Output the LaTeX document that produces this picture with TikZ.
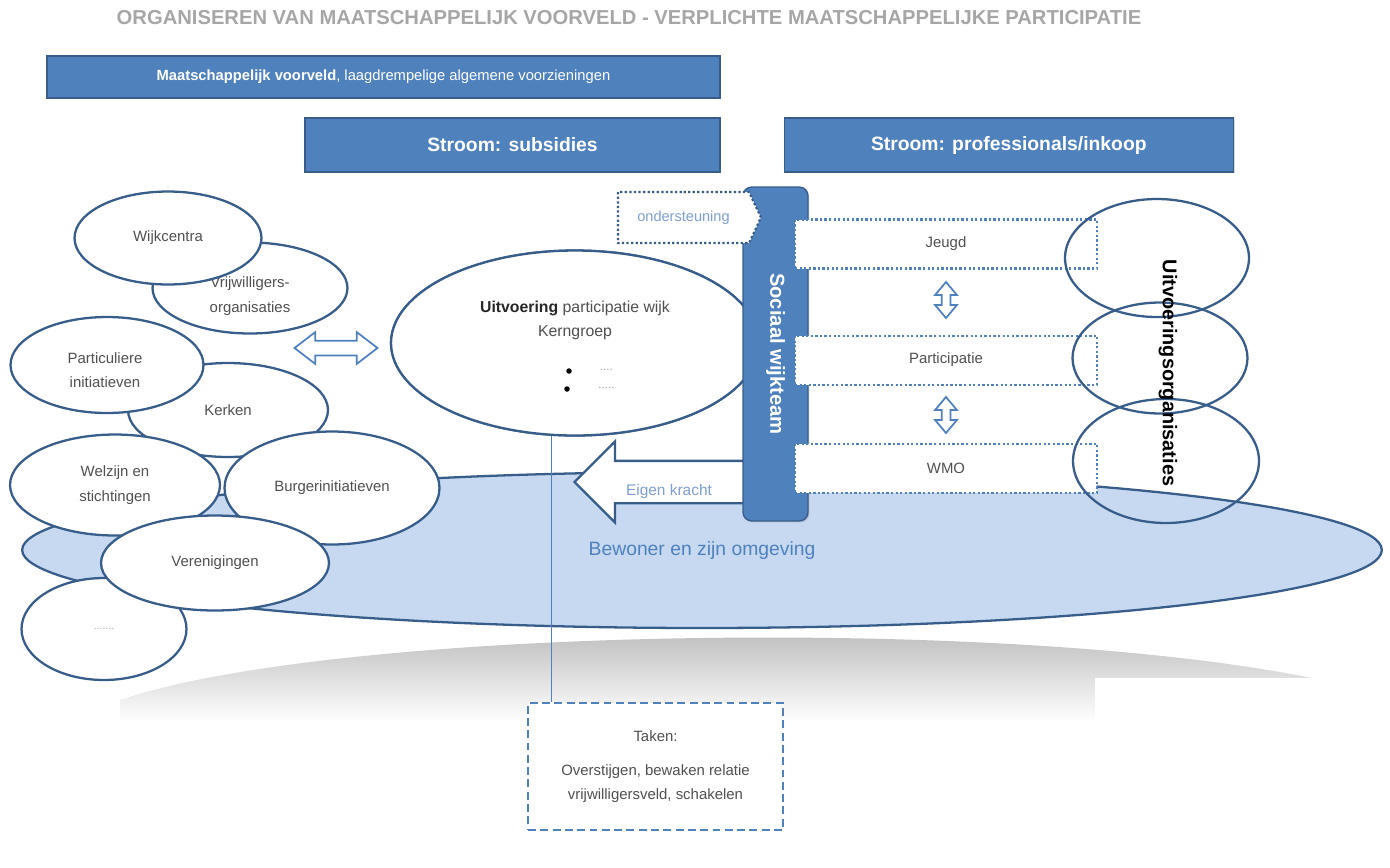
\documentclass[tikz,border=0pt]{standalone}
\usepackage{fontspec}
\setmainfont{Liberation Sans}
\usepackage{tikz}
\usetikzlibrary{shapes.geometric,shapes.arrows,shapes.symbols,shadows,positioning}

\definecolor{boxblue}{HTML}{4F81BD}
\definecolor{edgeblue}{HTML}{385D8A}
\definecolor{fieldblue}{HTML}{C6D9F1}
\definecolor{labelgray}{HTML}{505050}
\definecolor{softblue}{HTML}{7F9FD0}
\definecolor{titlegray}{HTML}{A6A6A6}

\begin{document}
\begin{tikzpicture}[x=0.02cm, y=-0.02cm,
  bar/.style={draw=edgeblue, line width=0.8pt, fill=boxblue, text=white, font=\bfseries\fontsize{11}{13}\selectfont, drop shadow={opacity=0.3, shadow xshift=0.8pt, shadow yshift=-0.8pt}},
  org/.style={ellipse, draw=edgeblue, line width=1.3pt, fill=white, inner sep=0pt, align=center, text=labelgray, font=\fontsize{8.5}{14}\selectfont},
  ring/.style={ellipse, draw=edgeblue, line width=1.3pt, inner sep=0pt},
  sector/.style={draw=boxblue, line width=1.2pt, dash pattern=on 1.3pt off 1.3pt, fill=white, text=labelgray, font=\fontsize{8.5}{10}\selectfont, minimum width=6.04cm, minimum height=0.98cm},
  twoway/.style={double arrow, draw=boxblue, line width=1pt, fill=white},
  bullet/.style={circle, fill=black, inner sep=0pt, minimum size=0.11cm},
  lbl/.style={text=labelgray, font=\fontsize{8.5}{14}\selectfont, align=center}]
\useasboundingbox (0,0) rectangle (1390,867);

%nodes
\node (title) [text=titlegray, font=\bfseries\fontsize{11.5}{13}\selectfont] at (629,18) {ORGANISEREN VAN MAATSCHAPPELIJK VOORVELD - VERPLICHTE MAATSCHAPPELIJKE PARTICIPATIE};
\node (voorveld) [bar, minimum width=13.46cm, minimum height=0.84cm, font=\fontsize{8.4}{10}\selectfont] at (383.5,77) {\textbf{Maatschappelijk voorveld}, laagdrempelige algemene voorzieningen};
\node (subsidies) [bar, minimum width=8.3cm, minimum height=1.08cm] at (512.5,145) {Stroom: subsidies};
\node (inkoop) [bar, minimum width=8.98cm, minimum height=1.08cm, right=1.26cm of subsidies] {Stroom: professionals/inkoop};

% shadow under the field
\shade[top color=black!30, bottom color=white] (120,700) .. controls (330,628) and (1000,615) .. (1312,678) -- (1312,722) -- (120,722) -- cycle;
\fill[white] (1095,678) rectangle (1390,867);

\node (bewoner) [ellipse, draw=edgeblue, line width=1.3pt, fill=fieldblue, minimum width=27.2cm, minimum height=3.12cm, text=boxblue, font=\fontsize{11}{13}\selectfont] at (702,550) {Bewoner en zijn omgeving};

\node (uitv) [ring, fill=white, minimum width=7.36cm, minimum height=3.7cm] at (575,343) {};
\node (taken) [draw=boxblue, line width=1.5pt, dash pattern=on 4.5pt off 2.5pt, fill=white, minimum width=5.1cm, minimum height=2.54cm, align=center, text=labelgray, font=\fontsize{8.5}{13.6}\selectfont] at (655.5,766.5) {Taken:\\[6pt]Overstijgen, bewaken relatie\\vrijwilligersveld, schakelen};
\draw[boxblue, line width=0.6pt] (uitv.-104) -- (uitv.-104 |- taken.north);
\node (uitv) [ring, fill=white, minimum width=7.36cm, minimum height=3.7cm] at (575,343) {};
\node (uitvhead) [lbl, font=\fontsize{9}{11}\selectfont] at (575,308) {\textbf{\color{black!85}Uitvoering} participatie wijk};
\node (kern) [lbl, font=\fontsize{9}{11}\selectfont] at (575,333) {Kerngroep};
\node (bul1) [bullet] at (569,371) {};
\node (bul2) [bullet] at (567,389) {};
\node (dots1) [text=black!40, font=\fontsize{6}{8}\selectfont, inner sep=1pt] at (606,370) {\dots.};
\node (dots2) [text=black!40, font=\fontsize{6}{8}\selectfont, inner sep=1pt] at (606,388) {\dots..};

\node (vrijw) [org, minimum width=3.9cm, minimum height=1.82cm] at (250,288) {};
\node (vrijwtxt) [lbl] at (250,296) {Vrijwilligers-\\organisaties};
\node (wijkc) [org, minimum width=3.74cm, minimum height=1.86cm] at (168,238) {Wijkcentra};
\node (kerken) [org, minimum width=4.0cm, minimum height=1.88cm] at (228,410) {Kerken};
\node (partic) [org, minimum width=3.86cm, minimum height=1.92cm] at (107,365) {};
\node (partictxt) [lbl] at (105,370) {Particuliere\\initiatieven};
\node (overig) [org, minimum width=3.3cm, minimum height=2.04cm, text=black!35, font=\fontsize{6}{8}\selectfont] at (104,629) {.......};
\node (welzijn) [org, minimum width=4.2cm, minimum height=2.02cm] at (115,485) {Welzijn en\\stichtingen};
\node (burger) [org, minimum width=4.3cm, minimum height=2.26cm] at (332,488) {Burgerinitiatieven};
\node (vereni) [org, minimum width=4.56cm, minimum height=1.9cm] at (215,563) {Verenigingen};

\node (koppel) [twoway, inner sep=0.13cm, minimum height=1.66cm, double arrow head extend=0.17cm, double arrow tip angle=75] at (336,348) {};

\node (eigen) [single arrow, shape border rotate=180, draw=edgeblue, line width=1.3pt, fill=white, inner sep=0.4cm, minimum height=3.6cm, single arrow head extend=0.39cm] at (675,482) {};
\node (eigentxt) [text=softblue, font=\fontsize{8.8}{10}\selectfont] at (669,491) {Eigen kracht};

\node (wijkteam) [bar, rounded corners=5pt, rotate=-90, minimum width=6.68cm, minimum height=1.3cm, font=\bfseries\fontsize{11.5}{13}\selectfont] at (775.5,354) {Sociaal wijkteam};
\node (onderst) [signal, signal to=east, signal pointer angle=130, draw=edgeblue, line width=1.2pt, dash pattern=on 1.3pt off 1.3pt, fill=white, minimum width=2.86cm, minimum height=1.02cm, text=softblue, font=\fontsize{8.3}{10}\selectfont] at (683.5,217.5) {ondersteuning};

\node (jeugd) [sector] at (946,244) {Jeugd};
\node (partp) [sector, below=1.3cm of jeugd] {Participatie};
\node (wmo) [sector, below=1.14cm of partp] {WMO};
\node (pijl1) [twoway, shape border rotate=90, inner sep=0.07cm, minimum height=0.72cm, double arrow head extend=0.13cm, double arrow tip angle=80] at (946,300) {};
\node (pijl2) [twoway, shape border rotate=90, inner sep=0.07cm, minimum height=0.72cm, double arrow head extend=0.13cm, double arrow tip angle=80] at (946,415) {};

\node (org1) [ring, minimum width=3.68cm, minimum height=2.36cm] at (1157,258) {};
\node (org2) [ring, minimum width=3.5cm, minimum height=2.22cm] at (1160,358) {};
\node (org3) [ring, minimum width=3.72cm, minimum height=2.48cm] at (1166,461) {};
\node (uitvorg) [rotate=-90, font=\bfseries\fontsize{11.3}{13}\selectfont] at (1168,373) {Uitvoeringsorganisaties};
\end{tikzpicture}
\end{document}
